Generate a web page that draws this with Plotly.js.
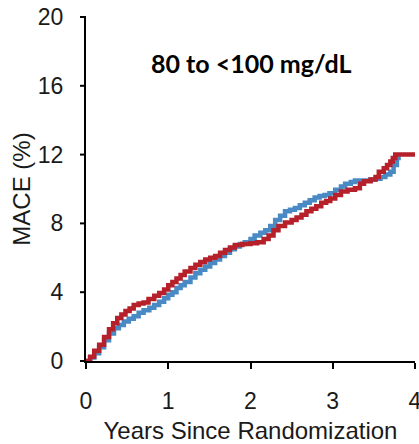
<!DOCTYPE html>
<html>
<head>
<meta charset="utf-8">
<script src="https://cdn.plot.ly/plotly-3.0.1.min.js"></script>
<style>html,body{margin:0;padding:0;background:#fff;}#chart{width:419px;height:444px;}</style>
</head>
<body>
<div id="chart"></div>
<script>
var chartTitle = "80 to <100 mg/dL";
var xAxisTitle = "Years Since Randomization";
var yAxisTitle = "MACE (%)";
var xRange = [0, 4];
var yRange = [0, 20];
var xTickVals = [0, 1, 2, 3, 4];
var yTickVals = [0, 4, 8, 12, 16, 20];

var blueYears = [0, 0.05, 0.10, 0.16, 0.22, 0.28, 0.34, 0.40, 0.46, 0.52, 0.58, 0.64, 0.70, 0.77, 0.83, 0.89, 0.95, 1.00, 1.05, 1.10, 1.15, 1.20, 1.27, 1.33, 1.39, 1.45, 1.51, 1.57, 1.63, 1.69, 1.75, 1.81, 1.87, 1.93, 2.00, 2.05, 2.12, 2.18, 2.24, 2.30, 2.36, 2.42, 2.48, 2.54, 2.60, 2.66, 2.72, 2.78, 2.84, 2.90, 2.96, 3.03, 3.10, 3.15, 3.22, 3.27, 3.34, 3.40, 3.46, 3.52, 3.58, 3.64, 3.70, 3.74, 3.78, 3.80];
var blueMace = [0, 0.2, 0.45, 0.8, 1.2, 1.6, 1.9, 2.1, 2.3, 2.45, 2.6, 2.8, 2.95, 3.1, 3.25, 3.45, 3.65, 3.85, 4.0, 4.25, 4.4, 4.6, 4.85, 5.1, 5.3, 5.5, 5.7, 5.9, 6.1, 6.3, 6.5, 6.65, 6.8, 6.9, 7.1, 7.3, 7.45, 7.6, 7.85, 8.2, 8.45, 8.7, 8.8, 8.9, 9.05, 9.2, 9.35, 9.5, 9.6, 9.65, 9.75, 9.95, 10.15, 10.3, 10.4, 10.5, 10.5, 10.5, 10.55, 10.6, 10.7, 10.85, 11.0, 11.4, 11.8, 11.9];

var redYears = [0, 0.05, 0.10, 0.16, 0.22, 0.28, 0.33, 0.38, 0.43, 0.48, 0.53, 0.58, 0.64, 0.70, 0.76, 0.83, 0.89, 0.95, 1.00, 1.05, 1.10, 1.15, 1.20, 1.27, 1.33, 1.39, 1.45, 1.51, 1.57, 1.63, 1.69, 1.75, 1.81, 1.90, 2.00, 2.08, 2.16, 2.22, 2.28, 2.34, 2.42, 2.50, 2.56, 2.62, 2.68, 2.74, 2.80, 2.86, 2.92, 2.97, 3.03, 3.10, 3.18, 3.27, 3.33, 3.38, 3.46, 3.52, 3.56, 3.62, 3.66, 3.70, 3.73, 3.76, 4.00];
var redMace = [0, 0.25, 0.6, 0.95, 1.4, 1.85, 2.2, 2.5, 2.7, 2.9, 3.05, 3.25, 3.35, 3.4, 3.6, 3.8, 3.95, 4.15, 4.4, 4.6, 4.8, 5.0, 5.2, 5.4, 5.6, 5.75, 5.9, 6.0, 6.1, 6.3, 6.45, 6.6, 6.75, 6.8, 6.85, 6.9, 7.1, 7.3, 7.6, 7.85, 8.05, 8.2, 8.35, 8.5, 8.7, 8.85, 9.0, 9.2, 9.3, 9.45, 9.65, 9.85, 9.95, 10.05, 10.3, 10.45, 10.55, 10.7, 11.0, 11.2, 11.4, 11.6, 11.8, 12.0, 12.0];

var tickFont = {family: "Liberation Sans, Arial, sans-serif", size: 23, color: "#1a1a1a"};
var titleFont = {family: "Liberation Sans, Arial, sans-serif", size: 24, color: "#1a1a1a"};

var traces = [
  {x: blueYears, y: blueMace, type: "scatter", mode: "lines", line: {shape: "hv", color: "#4a8ac4", width: 4.5}, hoverinfo: "skip", cliponaxis: false},
  {x: redYears, y: redMace, type: "scatter", mode: "lines", line: {shape: "hv", color: "#b5202a", width: 4.5}, hoverinfo: "skip", cliponaxis: false}
];

// short visible y tick marks (the axis' own ticks are kept long and white to set the label gap)
var yTickMarks = yTickVals.map(function (v) {
  return {
    type: "line", layer: "above",
    xref: "paper", xsizemode: "pixel", xanchor: 0, x0: -6, x1: 0,
    yref: "y domain", y0: (v - yRange[0]) / (yRange[1] - yRange[0]), y1: (v - yRange[0]) / (yRange[1] - yRange[0]),
    line: {color: "#000", width: 2}
  };
});

var layout = {
  width: 419, height: 444,
  margin: {l: 86, r: 4, t: 17, b: 83, pad: 0},
  paper_bgcolor: "#fff", plot_bgcolor: "#fff",
  showlegend: false,
  xaxis: {
    range: xRange, tickvals: xTickVals, ticktext: xTickVals.map(String),
    showgrid: false, zeroline: false, showline: true, linecolor: "#000", linewidth: 2,
    ticks: "outside", ticklen: 6, tickwidth: 2, tickcolor: "#000",
    tickfont: tickFont, ticklabelstandoff: 12, ticklabeloverflow: "allow", automargin: false,
    title: {text: xAxisTitle, font: titleFont, standoff: 22}
  },
  yaxis: {
    range: yRange, tickvals: yTickVals, ticktext: yTickVals.map(String),
    showgrid: false, zeroline: false, showline: true, linecolor: "#000", linewidth: 2,
    ticks: "outside", ticklen: 16, tickwidth: 2, tickcolor: "#ffffff",
    tickfont: tickFont, automargin: false,
    title: {text: yAxisTitle, font: titleFont, standoff: 0}
  },
  shapes: yTickMarks,
  annotations: [{
    x: 2, y: 17.3, xref: "x", yref: "y", text: chartTitle, showarrow: false,
    font: {family: "Lato, Open Sans, sans-serif", size: 25, color: "#000", weight: "bold"}
  }]
};

Plotly.newPlot("chart", traces, layout, {staticPlot: true, displayModeBar: false});
</script>
</body>
</html>
